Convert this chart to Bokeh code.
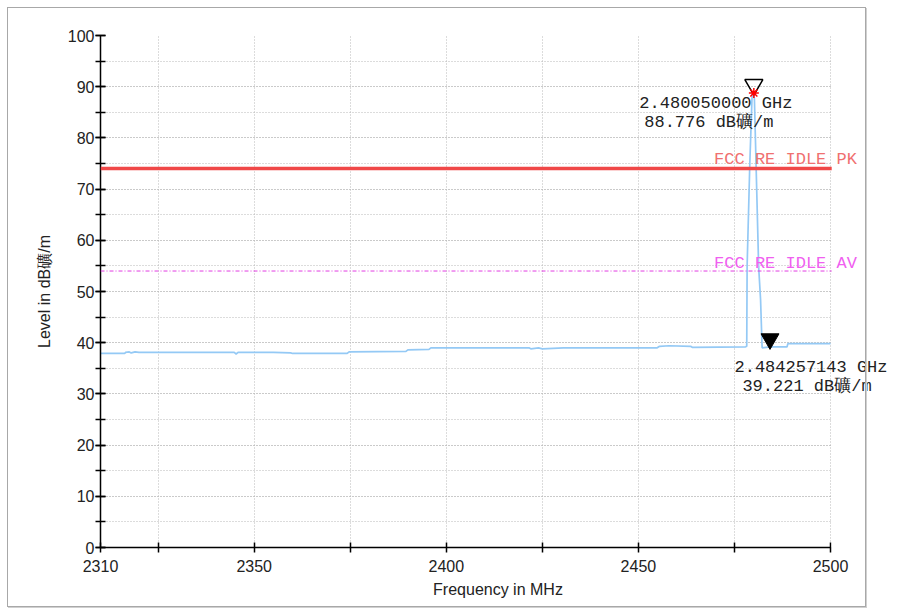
from bokeh.plotting import figure
from bokeh.models import (Label, Span, BoxAnnotation, FixedTicker, SingleIntervalTicker,
                          InlineStyleSheet)
from bokeh.embed import file_html
from bokeh.resources import INLINE

# ---- data ----
freq_mhz = [2310, 2316.3, 2316.5, 2317.5, 2318, 2319, 2320, 2330, 2344.8, 2345.3,
            2345.8, 2355, 2359.5, 2360, 2374.2, 2374.7, 2389.5, 2390, 2395.5, 2396,
            2410, 2421.5, 2422, 2424, 2425, 2430.5, 2440, 2454.9, 2455.5, 2458,
            2463.6, 2464, 2477.9, 2478.2, 2478.3, 2479.0, 2479.6, 2480.05, 2480.2,
            2481.3, 2481.8, 2482.2, 2484.3, 2488.7, 2488.9, 2500]
level_db = [37.9, 37.9, 38.1, 38.2, 38.0, 38.2, 38.1, 38.1, 38.1, 37.8,
            38.1, 38.1, 38.0, 37.9, 37.9, 38.2, 38.3, 38.6, 38.7, 39.0,
            39.0, 39.0, 38.8, 39.0, 38.8, 39.0, 39.0, 39.0, 39.3, 39.4,
            39.3, 39.1, 39.2, 39.3, 55.0, 75.0, 88.5, 88.776, 87.5,
            54.8, 48.4, 39.0, 39.2, 39.2, 39.8, 39.8]

peak_limit = 74.0
avg_limit = 54.0
peak_limit_name = "FCC RE IDLE PK"
avg_limit_name = "FCC RE IDLE AV"

marker1_freq = 2480.050000
marker1_level = 88.776
marker2_freq = 2484.257143
marker2_level = 39.221

x_start, x_end = 2310, 2500
x_major_ticks = [2310, 2350, 2400, 2450, 2500]
x_minor_ticks = [2325, 2375, 2425, 2475]
unit = "dB礦/m"

# ---- layout geometry (pixels) ----
W, H = 895, 605
left_px, top_px, bottom_px = 100, 35, 58
plot_px = 730                      # width of the drawn plot area (2310..2500)
extra_px = W - left_px - plot_px   # free area on the right for overflowing texts
px_per_mhz = plot_px / (x_end - x_start)
x_view_end = x_end + extra_px / px_per_mhz

p = figure(width=W, height=H, x_range=(x_start, x_view_end), y_range=(0, 100),
           output_backend="svg", toolbar_location=None,
           min_border_left=left_px, min_border_right=0, min_border_top=top_px,
           min_border_bottom=bottom_px)
p.outline_line_color = None
p.background_fill_color = "white"
p.border_fill_color = "white"

p.xaxis.ticker = FixedTicker(ticks=x_major_ticks, minor_ticks=x_minor_ticks)
p.xaxis.bounds = (x_start, x_end)
p.yaxis.ticker = SingleIntervalTicker(interval=10, num_minor_ticks=2)

for ax in (p.xaxis, p.yaxis):
    ax.axis_line_color = "black"
    ax.axis_line_width = 1.5
    ax.major_tick_line_color = "black"
    ax.minor_tick_line_color = "black"
    ax.major_tick_line_width = 1.5
    ax.minor_tick_line_width = 1.5
    ax.major_tick_in = 5
    ax.major_tick_out = 5
    ax.minor_tick_in = 5
    ax.minor_tick_out = 5
    ax.major_label_text_font = "Liberation Sans"
    ax.major_label_text_font_size = "16px"
    ax.major_label_text_color = "#222222"
    ax.axis_label_text_font = "Liberation Sans"
    ax.axis_label_text_font_size = "16px"
    ax.axis_label_text_font_style = "normal"
    ax.axis_label_text_color = "#222222"

p.xaxis.axis_label = "Frequency in MHz"
p.yaxis.axis_label = "Level in " + unit
p.xaxis.major_label_standoff = 7
p.xaxis.axis_label_standoff = 6
p.yaxis.major_label_standoff = 1
p.yaxis.axis_label_standoff = 12

for g in (p.xgrid, p.ygrid):
    g.grid_line_color = "#b8b8b8"
    g.grid_line_dash = "1 2"
    g.grid_line_width = 1
    g.minor_grid_line_color = "#b8b8b8"
    g.minor_grid_line_dash = "1 2"
    g.minor_grid_line_width = 1

# limit lines
p.add_layout(Span(location=peak_limit, dimension="width", line_color="#f04848", line_width=3.5))
p.add_layout(Span(location=avg_limit, dimension="width", line_color="#e23de2", line_width=1,
                  line_dash="4 2 1 2"))

# trace
p.line(freq_mhz, level_db, line_color="#94c9f5", line_width=1.7)

# white mask right of the plot area (grid and limit lines stop at 2500 MHz)
p.add_layout(BoxAnnotation(left=x_end + 1.2 / px_per_mhz, fill_color="white", fill_alpha=1,
                           line_color=None))

# markers
p.scatter([marker1_freq], [marker1_level + 1.6], marker="inverted_triangle", size=18,
          fill_color=None, line_color="black", line_width=1.5)
p.scatter([marker1_freq], [marker1_level], marker="asterisk", size=10,
          line_color="red", line_width=1.5)
p.scatter([marker2_freq], [marker2_level + 1.5], marker="inverted_triangle", size=18,
          fill_color="black", line_color="black")

txt_font = "Liberation Mono"
txt_size = "17px"

def add_label(x, y, text, dx, dy, color="#222222", align="center"):
    p.add_layout(Label(x=x, y=y, text=text, x_offset=dx, y_offset=dy,
                       text_font=txt_font, text_font_size=txt_size, text_color=color,
                       text_align=align, text_baseline="middle"))

add_label(marker1_freq, marker1_level, f"{marker1_freq/1000:.9f} GHz", -38, -10.5)
add_label(marker1_freq, marker1_level, f"{marker1_level:.3f} {unit}", -45, -29.5)
add_label(marker2_freq, marker2_level, f"{marker2_freq/1000:.9f} GHz", 41, -21)
add_label(marker2_freq, marker2_level, f"{marker2_level:.3f} {unit}", 37, -40)

add_label(x_end, peak_limit, peak_limit_name, -45, 9.5, color="#f07070")
add_label(x_end, avg_limit, avg_limit_name, -45, 8, color="#f060f0")

# outer gray box of the chart
p.stylesheets = [InlineStyleSheet(css="""
:host { position: relative; }
:host::after { content: ""; position: absolute; left: 7px; top: 7px; width: 857px;
  height: 598px; border: 1px solid #a8a8a8; box-shadow: 1px 1px 0 #d0d0d0;
  pointer-events: none; }
""")]

open("out.html", "w").write(file_html(p, INLINE))
